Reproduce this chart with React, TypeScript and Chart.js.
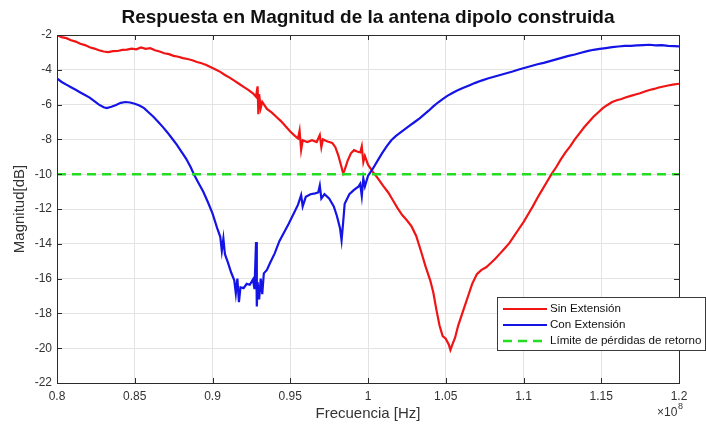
import React, { useEffect, useRef } from "react";
import { Chart, registerables } from "chart.js";

Chart.register(...registerables);

const TITLE = "Respuesta en Magnitud de la antena dipolo construida";
const X_LABEL = "Frecuencia [Hz]";
const Y_LABEL = "Magnitud[dB]";
const X_EXPONENT = "8";
const SERIES_NAMES = ["Sin Extensión", "Con Extensión", "Límite de pérdidas de retorno"];

const xTicks = [0.8, 0.85, 0.9, 0.95, 1, 1.05, 1.1, 1.15, 1.2];
const yTicks = [-22, -20, -18, -16, -14, -12, -10, -8, -6, -4, -2];

const freqSin = [
  0.8, 0.803, 0.806, 0.809, 0.812, 0.815, 0.818, 0.821, 0.824, 0.827, 0.83, 0.833, 0.836, 0.839, 0.842, 0.845,
  0.848, 0.851, 0.854, 0.857, 0.86, 0.863, 0.866, 0.869, 0.872, 0.875, 0.878, 0.881, 0.884, 0.887, 0.89, 0.893,
  0.896, 0.899, 0.902, 0.905, 0.908, 0.911, 0.914, 0.917, 0.92, 0.923, 0.926, 0.928, 0.929, 0.9295, 0.93, 0.931,
  0.932, 0.935, 0.938, 0.941, 0.944, 0.947, 0.95, 0.953, 0.955, 0.956, 0.957, 0.958, 0.961, 0.964, 0.967, 0.969,
  0.97, 0.971, 0.974, 0.977, 0.979, 0.981, 0.983, 0.984, 0.985, 0.987, 0.989, 0.991, 0.993, 0.995, 0.996, 0.997,
  0.998, 1.0, 1.003, 1.006, 1.01, 1.013, 1.016, 1.019, 1.022, 1.025, 1.028, 1.031, 1.034, 1.037, 1.04, 1.042,
  1.044, 1.046, 1.048, 1.05, 1.052, 1.053, 1.054, 1.056, 1.058, 1.061, 1.064, 1.067, 1.07, 1.073, 1.076, 1.079,
  1.082, 1.085, 1.088, 1.091, 1.094, 1.097, 1.1, 1.103, 1.106, 1.109, 1.112, 1.115, 1.118, 1.121, 1.124, 1.127,
  1.13, 1.133, 1.136, 1.139, 1.142, 1.145, 1.148, 1.151, 1.154, 1.157, 1.16, 1.163, 1.166, 1.169, 1.172, 1.175,
  1.178, 1.181, 1.184, 1.187, 1.19, 1.193, 1.196, 1.2,
];
const magSin = [
  -2.0, -2.12, -2.18, -2.3, -2.38, -2.5, -2.58, -2.7, -2.78, -2.88, -2.95, -2.98, -2.93, -2.92, -2.86, -2.84,
  -2.78, -2.82, -2.72, -2.8, -2.76, -2.88, -2.95, -3.05, -3.1, -3.2, -3.25, -3.33, -3.38, -3.45, -3.55, -3.62,
  -3.72, -3.85, -3.98, -4.12, -4.3, -4.45, -4.62, -4.8, -4.98, -5.15, -5.35, -5.55, -4.95, -6.55, -5.4, -6.2,
  -5.85, -6.25, -6.45, -6.7, -6.95, -7.25, -7.55, -7.8, -7.95, -7.5, -8.6, -8.05, -8.15, -8.05, -8.15, -7.75,
  -8.45, -8.0, -8.12, -8.2, -8.45, -8.95, -9.6, -9.95, -9.75, -9.2, -8.8, -8.62, -8.7, -8.75, -8.4, -9.3,
  -8.95, -9.45, -9.85, -10.2, -10.7, -11.05, -11.5, -11.95, -12.35, -12.65, -13.0, -13.55, -14.4, -15.3, -16.1, -16.8,
  -17.8, -18.7, -19.3, -19.45, -19.8, -20.1, -19.85, -19.4, -18.7, -17.9, -17.1, -16.3, -15.75, -15.5, -15.35, -15.1,
  -14.85, -14.55, -14.25, -13.95, -13.55, -13.15, -12.75, -12.3, -11.85, -11.35, -10.9, -10.45, -10.0, -9.6, -9.15, -8.75,
  -8.4, -8.0, -7.65, -7.3, -7.0, -6.7, -6.45, -6.2, -6.02, -5.85, -5.75, -5.68, -5.58, -5.5, -5.42, -5.35,
  -5.25, -5.16, -5.1, -5.02, -4.96, -4.9, -4.85, -4.8,
];

const freqCon = [
  0.8, 0.803, 0.806, 0.809, 0.812, 0.815, 0.818, 0.821, 0.824, 0.827, 0.83, 0.832, 0.835, 0.838, 0.841, 0.844,
  0.847, 0.85, 0.853, 0.856, 0.859, 0.862, 0.865, 0.868, 0.871, 0.874, 0.877, 0.88, 0.883, 0.886, 0.888, 0.891,
  0.894, 0.897, 0.9, 0.903, 0.905, 0.906, 0.907, 0.908, 0.91, 0.912, 0.914, 0.915, 0.916, 0.917, 0.918, 0.92,
  0.922, 0.924, 0.926, 0.927, 0.928, 0.9285, 0.929, 0.93, 0.931, 0.932, 0.933, 0.935, 0.937, 0.94, 0.943, 0.946,
  0.949, 0.952, 0.955, 0.957, 0.958, 0.96, 0.963, 0.966, 0.968, 0.969, 0.97, 0.972, 0.975, 0.978, 0.98, 0.982,
  0.983, 0.984, 0.985, 0.988, 0.991, 0.994, 0.995, 0.996, 0.997, 0.998, 1.0, 1.003, 1.006, 1.009, 1.012, 1.015,
  1.018, 1.021, 1.024, 1.027, 1.03, 1.033, 1.036, 1.039, 1.042, 1.045, 1.048, 1.051, 1.054, 1.057, 1.061, 1.065,
  1.069, 1.073, 1.077, 1.081, 1.085, 1.089, 1.093, 1.097, 1.101, 1.105, 1.109, 1.113, 1.117, 1.121, 1.125, 1.129,
  1.133, 1.137, 1.141, 1.145, 1.149, 1.153, 1.157, 1.161, 1.165, 1.169, 1.173, 1.177, 1.181, 1.185, 1.189, 1.193,
  1.197, 1.2,
];
const magCon = [
  -4.5, -4.7, -4.85, -5.0, -5.15, -5.3, -5.45, -5.6, -5.8, -6.0, -6.15, -6.2, -6.12, -6.02, -5.9, -5.85,
  -5.88, -5.95, -6.05, -6.2, -6.45, -6.7, -6.98, -7.28, -7.6, -7.95, -8.3, -8.7, -9.1, -9.6, -10.0, -10.5,
  -11.0, -11.6, -12.25, -13.1, -13.6, -14.4, -13.7, -14.6, -15.1, -15.65, -16.1, -16.85, -16.0, -17.35, -16.5, -16.55,
  -16.3, -16.35, -16.05, -16.6, -13.9, -17.6, -16.2, -17.2, -16.0, -16.9, -15.7, -15.5, -15.1, -14.55, -13.85, -13.35,
  -12.85, -12.3, -11.75, -11.2, -11.85, -11.3, -11.15, -11.1, -11.05, -10.65, -11.4, -11.15, -11.4, -11.85, -12.4, -13.1,
  -13.8, -12.8, -11.7, -11.15, -10.9, -10.7, -10.55, -11.25, -10.25, -10.7, -10.1, -9.7, -9.25, -8.8, -8.4, -8.05,
  -7.8, -7.6, -7.4, -7.2, -7.0, -6.8, -6.58, -6.35, -6.1, -5.88, -5.68, -5.5, -5.35, -5.2, -5.05, -4.9,
  -4.75, -4.62, -4.5, -4.4, -4.3, -4.2, -4.1, -3.98, -3.88, -3.78, -3.68, -3.6, -3.5, -3.4, -3.3, -3.2,
  -3.12, -3.02, -2.93, -2.85, -2.8, -2.75, -2.7, -2.66, -2.63, -2.62, -2.6, -2.58, -2.56, -2.6, -2.58, -2.62,
  -2.64, -2.65,
];

const freqLimit = [0.8, 1.2];
const magLimit = [-10, -10];

const FONT = "'Liberation Sans', Arial, Helvetica, sans-serif";
const AXIS_COLOR = "#2b2b2b";
const TEXT_COLOR = "#333333";

const toPoints = (xs: number[], ys: number[]) => xs.map((x, i) => ({ x, y: ys[i] }));

const overlayPlugin = {
  id: "matlabOverlay",
  afterDraw(chart: any) {
    const { ctx, chartArea } = chart;
    const { left, right, top, bottom } = chartArea;
    const xs = chart.scales.x;
    const ys = chart.scales.y;
    ctx.save();
    // box
    ctx.strokeStyle = AXIS_COLOR;
    ctx.lineWidth = 1;
    ctx.beginPath();
    ctx.moveTo(Math.round(left) + 0.5, Math.round(top) + 0.5);
    ctx.lineTo(Math.round(right) + 0.5, Math.round(top) + 0.5);
    ctx.lineTo(Math.round(right) + 0.5, Math.round(bottom) + 0.5);
    ctx.lineTo(Math.round(left) + 0.5, Math.round(bottom) + 0.5);
    ctx.closePath();
    ctx.stroke();
    // inner ticks
    const tl = 5;
    ctx.beginPath();
    xTicks.forEach((v) => {
      const px = Math.round(xs.getPixelForValue(v)) + 0.5;
      ctx.moveTo(px, bottom);
      ctx.lineTo(px, bottom - tl);
      ctx.moveTo(px, top);
      ctx.lineTo(px, top + tl);
    });
    yTicks.forEach((v) => {
      const py = Math.round(ys.getPixelForValue(v)) + 0.5;
      ctx.moveTo(left, py);
      ctx.lineTo(left + tl, py);
      ctx.moveTo(right, py);
      ctx.lineTo(right - tl, py);
    });
    ctx.stroke();

    // title
    ctx.fillStyle = "#111111";
    ctx.font = `bold 19px ${FONT}`;
    ctx.textAlign = "center";
    ctx.textBaseline = "middle";
    ctx.fillText(TITLE, (left + right) / 2, 18);

    // exponent label
    ctx.fillStyle = TEXT_COLOR;
    ctx.font = `12px ${FONT}`;
    ctx.textAlign = "left";
    ctx.textBaseline = "alphabetic";
    const expX = right - 22;
    ctx.fillText("×10", expX, 416);
    ctx.font = `9px ${FONT}`;
    ctx.fillText(X_EXPONENT, expX + 21, 409);

    // legend
    const lx = 497;
    const ly = 297;
    const lw = 209;
    const lh = 54;
    ctx.fillStyle = "#ffffff";
    ctx.fillRect(lx, ly, lw, lh);
    ctx.strokeStyle = "#3a3a3a";
    ctx.lineWidth = 1;
    ctx.strokeRect(lx + 0.5, ly + 0.5, lw - 1, lh - 1);
    ctx.font = `11.6px ${FONT}`;
    ctx.textBaseline = "middle";
    chart.data.datasets.forEach((ds: any, i: number) => {
      const y = ly + 12 + i * 16;
      ctx.save();
      ctx.strokeStyle = ds.borderColor;
      ctx.lineWidth = ds.borderWidth;
      ctx.setLineDash(ds.borderDash || []);
      ctx.beginPath();
      ctx.moveTo(lx + 6, y);
      ctx.lineTo(lx + 50, y);
      ctx.stroke();
      ctx.restore();
      ctx.fillStyle = "#111111";
      ctx.textAlign = "left";
      ctx.fillText(ds.label, lx + 53, y);
    });
    ctx.restore();
  },
};

export default function App() {
  const canvasRef = useRef<HTMLCanvasElement | null>(null);

  useEffect(() => {
    const canvas = canvasRef.current;
    if (!canvas) return;
    const chart = new Chart(canvas, {
      type: "line",
      data: {
        datasets: [
          {
            label: SERIES_NAMES[0],
            data: toPoints(freqSin, magSin),
            borderColor: "#f01414",
            borderWidth: 2.2,
            pointRadius: 0,
            tension: 0,
            order: 3,
          },
          {
            label: SERIES_NAMES[1],
            data: toPoints(freqCon, magCon),
            borderColor: "#1414e6",
            borderWidth: 2.2,
            pointRadius: 0,
            tension: 0,
            order: 2,
          },
          {
            label: SERIES_NAMES[2],
            data: toPoints(freqLimit, magLimit),
            borderColor: "#22dd22",
            borderWidth: 2.5,
            borderDash: [9, 6],
            pointRadius: 0,
            tension: 0,
            order: 1,
          },
        ],
      },
      options: {
        responsive: false,
        animation: false,
        devicePixelRatio: 1,
        layout: { padding: { top: 35, right: 27, left: 0, bottom: 0 } },
        plugins: {
          legend: { display: false },
          title: { display: false },
          tooltip: { enabled: false },
        },
        scales: {
          x: {
            type: "linear",
            min: 0.8,
            max: 1.2,
            afterBuildTicks: (s: any) => {
              s.ticks = xTicks.map((v) => ({ value: v }));
            },
            afterFit: (s: any) => {
              s.height = 42;
            },
            grid: { color: "#e3e3e3", drawTicks: false },
            border: { display: true, color: AXIS_COLOR },
            ticks: {
              padding: 6,
              color: TEXT_COLOR,
              font: { family: FONT, size: 12 },
              maxRotation: 0,
              autoSkip: false,
              callback: (v: any) => String(Number(Number(v).toFixed(2))),
            },
            title: {
              display: true,
              text: X_LABEL,
              color: TEXT_COLOR,
              font: { family: FONT, size: 15 },
              padding: { top: 0, bottom: 2 },
            },
          },
          y: {
            type: "linear",
            min: -22,
            max: -2,
            afterBuildTicks: (s: any) => {
              s.ticks = yTicks.map((v) => ({ value: v }));
            },
            afterFit: (s: any) => {
              s.width = 57;
            },
            grid: { color: "#e3e3e3", drawTicks: false },
            border: { display: true, color: AXIS_COLOR },
            ticks: {
              padding: 5,
              color: TEXT_COLOR,
              font: { family: FONT, size: 12 },
              autoSkip: false,
              callback: (v: any) => String(v),
            },
            title: {
              display: true,
              text: Y_LABEL,
              color: TEXT_COLOR,
              font: { family: FONT, size: 15 },
              padding: { top: 11, bottom: 0 },
            },
          },
        },
      },
      plugins: [overlayPlugin],
    });
    return () => chart.destroy();
  }, []);

  return (
    <div style={{ position: "absolute", left: 0, top: 0, width: 706, height: 425, background: "#ffffff" }}>
      <canvas ref={canvasRef} width={706} height={425} style={{ width: 706, height: 425, display: "block" }} />
    </div>
  );
}
